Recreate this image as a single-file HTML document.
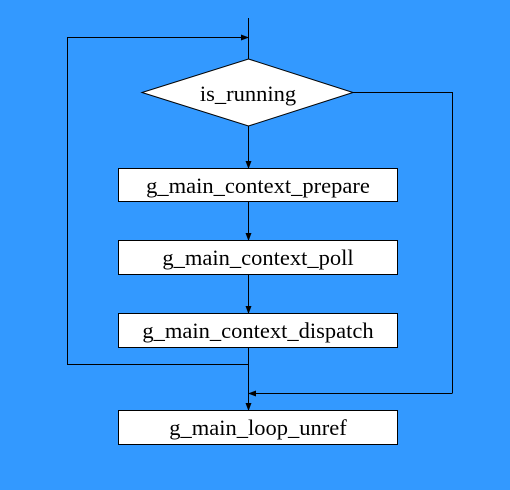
<!DOCTYPE html>
<html><head><style>body{margin:0;background:#3399FF;}</style></head><body>
<svg width="510" height="490" xmlns="http://www.w3.org/2000/svg" style="display:block">
<defs><marker id="a" markerWidth="8" markerHeight="8" refX="7" refY="4" orient="auto" markerUnits="userSpaceOnUse"><path d="M0,1 L8,4 L0,7 z" fill="#000"/></marker></defs>
<rect width="510" height="490" fill="#3399FF"/>
<g stroke="#000" stroke-width="1" fill="none">
<line x1="248.5" y1="18" x2="248.5" y2="59"/>
<line x1="67.5" y1="37.5" x2="248" y2="37.5" marker-end="url(#a)"/>
<line x1="67.5" y1="37" x2="67.5" y2="364.5"/>
<line x1="67" y1="364.5" x2="248.5" y2="364.5"/>
<line x1="248.5" y1="126" x2="248.5" y2="168" marker-end="url(#a)"/>
<line x1="248.5" y1="201" x2="248.5" y2="240" marker-end="url(#a)"/>
<line x1="248.5" y1="274" x2="248.5" y2="313" marker-end="url(#a)"/>
<line x1="248.5" y1="347" x2="248.5" y2="410" marker-end="url(#a)"/>
<polyline points="353,92.5 452.5,92.5 452.5,393.5"/>
<line x1="452" y1="393.5" x2="249" y2="393.5" marker-end="url(#a)"/>
</g>
<polygon points="248.5,59 353,92.5 248.5,126 142,92.5" fill="#fff" stroke="#000"/>
<g fill="#fff" stroke="#000">
<rect x="118.5" y="168.5" width="279" height="33"/>
<rect x="118.5" y="240.5" width="279" height="34"/>
<rect x="118.5" y="313.5" width="279" height="34"/>
<rect x="118.5" y="410.5" width="279" height="34"/>
</g>
<g text-anchor="middle" fill="#000" style="font-family:'Liberation Serif','Times New Roman','DejaVu Serif',serif;font-size:22.5px">
<text x="248" y="101">is_running</text>
<text x="258" y="193">g_main_context_prepare</text>
<text x="258" y="265">g_main_context_poll</text>
<text x="258" y="338">g_main_context_dispatch</text>
<text x="258" y="435">g_main_loop_unref</text>
</g>
</svg>
</body></html>
